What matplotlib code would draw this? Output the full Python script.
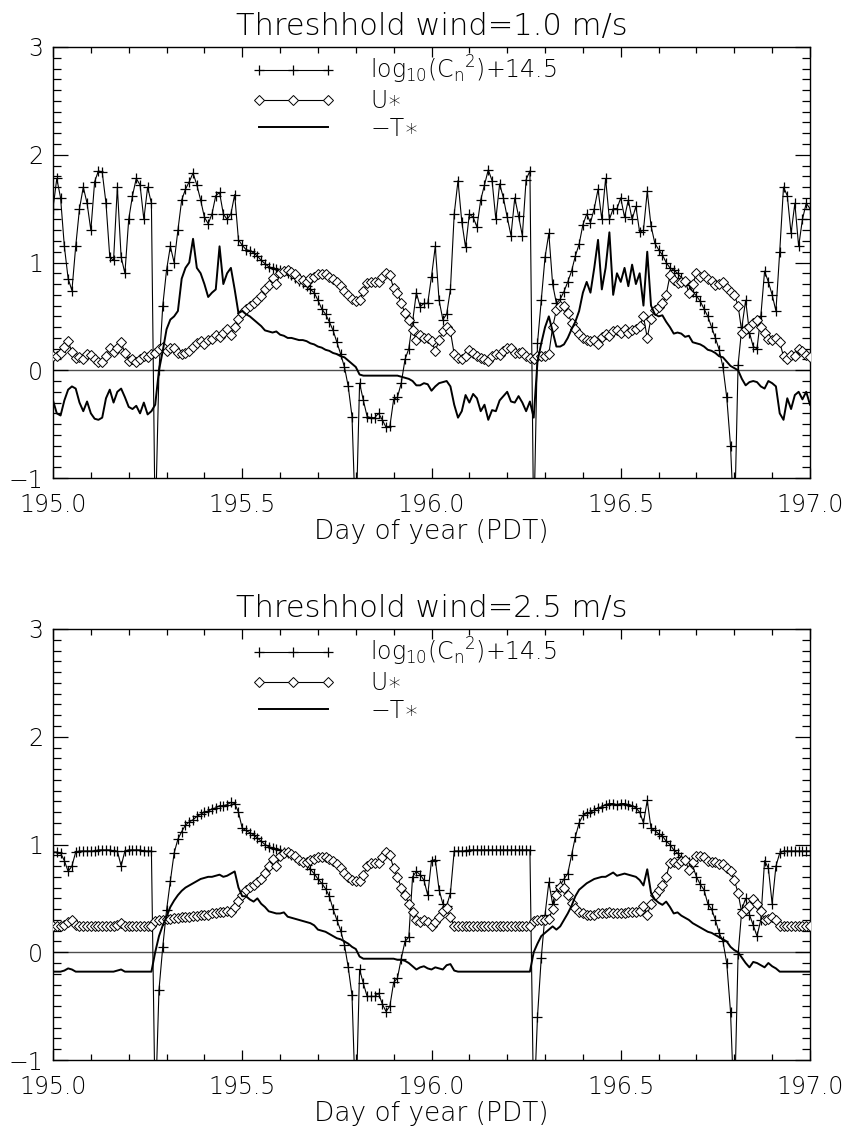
import matplotlib
matplotlib.use('Agg')
import matplotlib.pyplot as plt
import numpy as np
from matplotlib.ticker import MultipleLocator, FormatStrFormatter

# time axis: day of year, 0.01 day steps
day = np.linspace(195.0, 197.0, 201)

# ---- threshold wind 1.0 m/s ----
cn2_a = [1.50, 1.78, 1.60, 1.15, 0.85, 0.74, 1.15, 1.50, 1.70, 1.55,
         1.30, 1.75, 1.85, 1.84, 1.55, 1.05, 1.02, 1.70, 1.05, 0.90,
         1.40, 1.62, 1.78, 1.72, 1.40, 1.70, 1.55, -1.5, 0.00, 0.60,
         0.93, 1.15, 1.00, 1.30, 1.58, 1.68, 1.75, 1.83, 1.72, 1.58,
         1.42, 1.36, 1.45, 1.62, 1.65, 1.45, 1.40, 1.45, 1.63, 1.21,
         1.16, 1.12, 1.11, 1.09, 1.06, 1.02, 0.99, 0.96, 0.95, 0.94,
         0.93, 0.92, 0.90, 0.88, 0.86, 0.83, 0.81, 0.78, 0.75, 0.72,
         0.65, 0.57, 0.52, 0.45, 0.37, 0.26, 0.15, 0.03, -0.15, -0.43,
         -1.5, -0.12, -0.28, -0.43, -0.44, -0.44, -0.40, -0.46, -0.53, -0.52,
         -0.27, -0.25, -0.12, 0.10, 0.20, 0.45, 0.72, 0.59, 0.62, 0.62,
         0.87, 1.15, 0.65, 0.47, 0.52, 0.75, 1.45, 1.76, 1.38, 1.14,
         1.45, 1.42, 1.33, 1.58, 1.72, 1.86, 1.76, 1.40, 1.73, 1.60,
         1.42, 1.25, 1.60, 1.43, 1.25, 1.77, 1.85, -1.5, 0.25, 0.65,
         1.05, 1.27, 0.80, 0.62, 0.66, 0.73, 0.82, 0.92, 1.06, 1.17,
         1.35, 1.45, 1.37, 1.50, 1.68, 1.40, 1.78, 1.40, 1.50, 1.50,
         1.60, 1.42, 1.58, 1.40, 1.52, 1.28, 1.30, 1.66, 1.34, 1.18,
         1.12, 1.07, 1.00, 0.95, 0.93, 0.90, 0.86, 0.82, 0.79, 0.73,
         0.69, 0.64, 0.57, 0.50, 0.40, 0.30, 0.19, 0.03, -0.25, -0.70,
         -1.5, 0.05, 0.40, 0.65, 0.35, 0.22, 0.20, 0.50, 0.92, 0.82,
         0.70, 0.55, 1.10, 1.70, 1.62, 1.27, 1.55, 1.15, 1.40, 1.55,
         1.50]

ustar_a = [0.13, 0.13, 0.16, 0.22, 0.27, 0.17, 0.11, 0.12, 0.10, 0.15,
           0.14, 0.10, 0.08, 0.08, 0.13, 0.21, 0.17, 0.21, 0.26, 0.16,
           0.09, 0.10, 0.08, 0.10, 0.13, 0.12, 0.15, 0.16, 0.20, 0.22,
           0.18, 0.21, 0.21, 0.16, 0.15, 0.16, 0.18, 0.22, 0.25, 0.27,
           0.24, 0.28, 0.29, 0.33, 0.31, 0.35, 0.38, 0.33, 0.40, 0.48,
           0.53, 0.57, 0.60, 0.62, 0.65, 0.69, 0.75, 0.79, 0.86, 0.80,
           0.90, 0.92, 0.93, 0.91, 0.89, 0.85, 0.84, 0.82, 0.86, 0.87,
           0.89, 0.89, 0.89, 0.87, 0.85, 0.82, 0.78, 0.74, 0.70, 0.66,
           0.64, 0.65, 0.74, 0.81, 0.82, 0.82, 0.82, 0.87, 0.90, 0.88,
           0.76, 0.72, 0.62, 0.53, 0.47, 0.37, 0.28, 0.33, 0.30, 0.30,
           0.27, 0.18, 0.28, 0.36, 0.40, 0.36, 0.15, 0.11, 0.10, 0.13,
           0.19, 0.16, 0.13, 0.11, 0.10, 0.09, 0.13, 0.15, 0.14, 0.18,
           0.21, 0.21, 0.16, 0.16, 0.17, 0.13, 0.11, 0.10, 0.13, 0.13,
           0.13, 0.15, 0.40, 0.56, 0.60, 0.60, 0.53, 0.44, 0.38, 0.34,
           0.30, 0.28, 0.27, 0.28, 0.24, 0.31, 0.34, 0.32, 0.36, 0.37,
           0.35, 0.38, 0.35, 0.37, 0.38, 0.41, 0.50, 0.30, 0.48, 0.56,
           0.59, 0.62, 0.70, 0.88, 0.84, 0.81, 0.82, 0.83, 0.72, 0.80,
           0.90, 0.87, 0.88, 0.85, 0.83, 0.79, 0.80, 0.82, 0.76, 0.73,
           0.70, 0.60, 0.35, 0.38, 0.40, 0.44, 0.47, 0.40, 0.35, 0.29,
           0.28, 0.30, 0.26, 0.13, 0.10, 0.14, 0.13, 0.20, 0.18, 0.14,
           0.12]

tstar_a = [-0.28, -0.40, -0.42, -0.28, -0.18, -0.15, -0.17, -0.30, -0.38, -0.29,
           -0.40, -0.45, -0.46, -0.44, -0.26, -0.18, -0.30, -0.20, -0.17, -0.25,
           -0.34, -0.36, -0.33, -0.40, -0.30, -0.41, -0.38, -0.32, 0.00, 0.18,
           0.38, 0.47, 0.50, 0.55, 0.85, 0.95, 1.00, 1.22, 0.95, 0.90,
           0.80, 0.68, 0.72, 0.75, 1.15, 0.80, 0.90, 0.95, 0.75, 0.53,
           0.55, 0.52, 0.50, 0.47, 0.44, 0.41, 0.37, 0.36, 0.35, 0.36,
           0.33, 0.32, 0.30, 0.30, 0.29, 0.28, 0.28, 0.27, 0.25, 0.24,
           0.22, 0.21, 0.19, 0.18, 0.16, 0.15, 0.13, 0.12, 0.09, 0.06,
           0.03, -0.04, -0.05, -0.05, -0.05, -0.05, -0.05, -0.05, -0.05, -0.05,
           -0.05, -0.05, -0.06, -0.07, -0.08, -0.10, -0.14, -0.14, -0.12, -0.13,
           -0.19, -0.15, -0.12, -0.11, -0.10, -0.15, -0.32, -0.44, -0.38, -0.23,
           -0.30, -0.22, -0.26, -0.38, -0.32, -0.46, -0.37, -0.38, -0.28, -0.24,
           -0.20, -0.29, -0.30, -0.24, -0.30, -0.38, -0.29, -0.44, 0.08, 0.25,
           0.40, 0.50, 0.36, 0.22, 0.22, 0.24, 0.30, 0.38, 0.45, 0.55,
           0.72, 0.82, 0.72, 0.95, 1.21, 0.75, 0.95, 1.28, 0.70, 0.90,
           0.82, 0.95, 0.78, 0.98, 0.80, 0.90, 0.60, 1.10, 0.60, 0.52,
           0.50, 0.51, 0.45, 0.40, 0.34, 0.35, 0.34, 0.31, 0.32, 0.26,
           0.25, 0.24, 0.22, 0.19, 0.18, 0.16, 0.13, 0.12, 0.08, 0.04,
           0.02, 0.00, -0.08, -0.14, -0.11, -0.10, -0.11, -0.15, -0.17, -0.10,
           -0.12, -0.15, -0.40, -0.46, -0.26, -0.36, -0.23, -0.20, -0.27, -0.20,
           -0.32]

# ---- threshold wind 2.5 m/s ----
cn2_b = [0.93, 0.93, 0.92, 0.85, 0.75, 0.80, 0.93, 0.94, 0.94, 0.94,
         0.94, 0.94, 0.95, 0.95, 0.95, 0.95, 0.94, 0.94, 0.80, 0.94,
         0.95, 0.95, 0.95, 0.95, 0.94, 0.94, 0.94, -1.5, -0.35, 0.05,
         0.39, 0.66, 0.92, 1.05, 1.12, 1.18, 1.21, 1.23, 1.26, 1.28,
         1.30, 1.31, 1.33, 1.34, 1.36, 1.36, 1.37, 1.39, 1.38, 1.30,
         1.15, 1.13, 1.11, 1.09, 1.06, 1.03, 1.00, 0.98, 0.97, 0.96,
         0.95, 0.93, 0.92, 0.90, 0.88, 0.86, 0.84, 0.81, 0.77, 0.73,
         0.68, 0.64, 0.59, 0.52, 0.40, 0.30, 0.20, 0.07, -0.14, -0.40,
         -1.5, -0.16, -0.29, -0.41, -0.41, -0.41, -0.38, -0.48, -0.55, -0.50,
         -0.28, -0.24, -0.06, 0.10, 0.14, 0.70, 0.75, 0.72, 0.67, 0.53,
         0.85, 0.86, 0.58, 0.45, 0.43, 0.55, 0.94, 0.94, 0.94, 0.94,
         0.95, 0.95, 0.95, 0.95, 0.95, 0.95, 0.95, 0.95, 0.95, 0.95,
         0.95, 0.95, 0.95, 0.95, 0.95, 0.95, 0.95, -1.5, -0.60, -0.05,
         0.35, 0.65, 0.45, 0.57, 0.62, 0.68, 0.73, 0.90, 1.07, 1.20,
         1.27, 1.29, 1.30, 1.32, 1.34, 1.35, 1.37, 1.38, 1.38, 1.37,
         1.38, 1.38, 1.37, 1.36, 1.34, 1.30, 1.20, 1.41, 1.15, 1.13,
         1.10, 1.08, 1.03, 1.00, 0.95, 0.92, 0.88, 0.86, 0.84, 0.80,
         0.70, 0.63, 0.58, 0.45, 0.40, 0.30, 0.18, 0.10, -0.10, -0.55,
         -1.5, -0.02, 0.40, 0.50, 0.35, 0.25, 0.15, 0.30, 0.85, 0.78,
         0.45, 0.80, 0.92, 0.94, 0.94, 0.94, 0.94, 0.94, 0.94, 0.94,
         0.94]

ustar_b = [0.24, 0.24, 0.24, 0.25, 0.28, 0.30, 0.25, 0.24, 0.24, 0.24,
           0.24, 0.24, 0.24, 0.24, 0.24, 0.24, 0.24, 0.25, 0.27, 0.24,
           0.24, 0.24, 0.24, 0.24, 0.24, 0.24, 0.24, 0.29, 0.30, 0.30,
           0.31, 0.31, 0.32, 0.32, 0.33, 0.33, 0.33, 0.34, 0.34, 0.35,
           0.35, 0.35, 0.36, 0.36, 0.37, 0.37, 0.38, 0.37, 0.42, 0.48,
           0.53, 0.58, 0.61, 0.62, 0.65, 0.68, 0.74, 0.80, 0.87, 0.80,
           0.89, 0.92, 0.93, 0.91, 0.89, 0.86, 0.84, 0.84, 0.86, 0.87,
           0.88, 0.88, 0.88, 0.87, 0.85, 0.82, 0.78, 0.74, 0.70, 0.67,
           0.66, 0.66, 0.72, 0.80, 0.83, 0.83, 0.83, 0.88, 0.93, 0.90,
           0.78, 0.70, 0.60, 0.53, 0.45, 0.37, 0.30, 0.28, 0.30, 0.28,
           0.24, 0.28, 0.33, 0.38, 0.41, 0.33, 0.24, 0.24, 0.24, 0.24,
           0.24, 0.24, 0.24, 0.24, 0.24, 0.24, 0.24, 0.24, 0.24, 0.24,
           0.24, 0.24, 0.24, 0.24, 0.24, 0.24, 0.24, 0.29, 0.30, 0.30,
           0.30, 0.31, 0.40, 0.53, 0.61, 0.60, 0.53, 0.46, 0.41, 0.37,
           0.36, 0.35, 0.35, 0.35, 0.36, 0.36, 0.36, 0.37, 0.36, 0.36,
           0.36, 0.36, 0.37, 0.37, 0.37, 0.38, 0.43, 0.35, 0.45, 0.53,
           0.58, 0.62, 0.70, 0.83, 0.84, 0.82, 0.85, 0.86, 0.76, 0.84,
           0.89, 0.89, 0.88, 0.85, 0.84, 0.84, 0.82, 0.82, 0.78, 0.75,
           0.67, 0.55, 0.36, 0.40, 0.43, 0.49, 0.45, 0.38, 0.30, 0.31,
           0.33, 0.30, 0.24, 0.24, 0.24, 0.24, 0.24, 0.24, 0.24, 0.24,
           0.24]

tstar_b = [-0.18, -0.18, -0.18, -0.17, -0.15, -0.16, -0.18, -0.18, -0.18, -0.18,
           -0.18, -0.18, -0.18, -0.18, -0.18, -0.18, -0.18, -0.17, -0.16, -0.18,
           -0.18, -0.18, -0.18, -0.18, -0.18, -0.18, -0.18, 0.00, 0.15, 0.25,
           0.33, 0.42, 0.48, 0.53, 0.57, 0.60, 0.62, 0.64, 0.66, 0.68,
           0.69, 0.70, 0.70, 0.71, 0.72, 0.70, 0.71, 0.73, 0.75, 0.60,
           0.52, 0.52, 0.49, 0.47, 0.50, 0.45, 0.42, 0.38, 0.37, 0.36,
           0.36, 0.37, 0.33, 0.32, 0.31, 0.30, 0.29, 0.28, 0.27, 0.25,
           0.21, 0.20, 0.19, 0.17, 0.15, 0.13, 0.12, 0.10, 0.08, 0.05,
           0.03, -0.04, -0.06, -0.06, -0.06, -0.06, -0.06, -0.06, -0.06, -0.06,
           -0.06, -0.07, -0.07, -0.08, -0.10, -0.13, -0.16, -0.14, -0.13, -0.15,
           -0.16, -0.14, -0.15, -0.16, -0.12, -0.11, -0.17, -0.18, -0.18, -0.18,
           -0.18, -0.18, -0.18, -0.18, -0.18, -0.18, -0.18, -0.18, -0.18, -0.18,
           -0.18, -0.18, -0.18, -0.18, -0.18, -0.18, -0.18, 0.00, 0.08, 0.15,
           0.18, 0.21, 0.24, 0.21, 0.24, 0.30, 0.36, 0.43, 0.52, 0.58,
           0.61, 0.64, 0.66, 0.68, 0.69, 0.70, 0.70, 0.72, 0.74, 0.71,
           0.72, 0.73, 0.72, 0.71, 0.70, 0.67, 0.62, 0.77, 0.55, 0.49,
           0.46, 0.44, 0.47, 0.42, 0.36, 0.37, 0.34, 0.32, 0.30, 0.27,
           0.25, 0.23, 0.21, 0.19, 0.18, 0.16, 0.14, 0.12, 0.10, 0.05,
           0.02, 0.00, -0.05, -0.10, -0.14, -0.09, -0.10, -0.12, -0.14, -0.10,
           -0.13, -0.15, -0.18, -0.18, -0.18, -0.18, -0.18, -0.18, -0.18, -0.18,
           -0.18]

titles = ['Threshhold wind=1.0 m/s', 'Threshhold wind=2.5 m/s']
labels = [r'log$_{10}$(C$_{\rm n}$$^{2}$)+14.5', 'U\u2217', '\u2212T\u2217']

plt.rcParams['font.family'] = ['DejaVu Sans']
plt.rcParams['font.weight'] = 'light'
plt.rcParams['axes.titleweight'] = 'light'
plt.rcParams['axes.labelweight'] = 'light'

fig = plt.figure(figsize=(8.5, 11.39), dpi=100)
W, H = 850.0, 1139.0
# axes boxes in pixels: left, top, right, bottom
boxes = [(53, 47, 810, 478), (53, 629, 810, 1060)]
panels = [(cn2_a, ustar_a, tstar_a), (cn2_b, ustar_b, tstar_b)]

for (x0, y0, x1, y1), (cn2, us, ts), title in zip(boxes, panels, titles):
    ax = fig.add_axes([x0 / W, 1 - y1 / H, (x1 - x0) / W, (y1 - y0) / H])
    ax.axhline(0, color='0.3', lw=1.0, zorder=1)
    ax.plot(day, cn2, color='k', lw=0.8, marker='+', ms=7, mew=0.9,
            label=labels[0], zorder=3)
    ax.plot(day, us, color='k', lw=0.8, marker='D', ms=5.5, mew=0.7,
            mfc='white', label=labels[1], zorder=4)
    ax.plot(day, ts, color='k', lw=1.4, label=labels[2], zorder=5)

    ax.set_xlim(195.0, 197.0)
    ax.set_ylim(-1, 3)
    ax.xaxis.set_major_locator(MultipleLocator(0.5))
    ax.xaxis.set_minor_locator(MultipleLocator(0.1))
    ax.yaxis.set_major_locator(MultipleLocator(1))
    ax.yaxis.set_minor_locator(MultipleLocator(0.1))
    ax.xaxis.set_major_formatter(FormatStrFormatter('%.1f'))
    ax.tick_params(which='both', direction='in', top=True, right=True,
                   labelsize=17, width=0.9)
    ax.tick_params(axis='x', which='major', length=7.5, pad=11)
    ax.tick_params(axis='x', which='minor', length=4.5)
    ax.tick_params(axis='y', which='major', length=10.5, pad=7)
    ax.tick_params(axis='y', which='minor', length=5.5)
    for s in ax.spines.values():
        s.set_linewidth(1.0)
    ax.set_title(title, fontsize=22, pad=9, fontweight='light')
    ax.set_xlabel('Day of year (PDT)', fontsize=19, labelpad=1,
                  fontweight='light')
    ax.legend(loc='upper left', bbox_to_anchor=(0.263, 0.985), frameon=False,
              borderpad=0, borderaxespad=0,
              numpoints=3, handlelength=3.5, handletextpad=1.5,
              labelspacing=0.15, fontsize=17)

fig.savefig('out.png', dpi=100)
